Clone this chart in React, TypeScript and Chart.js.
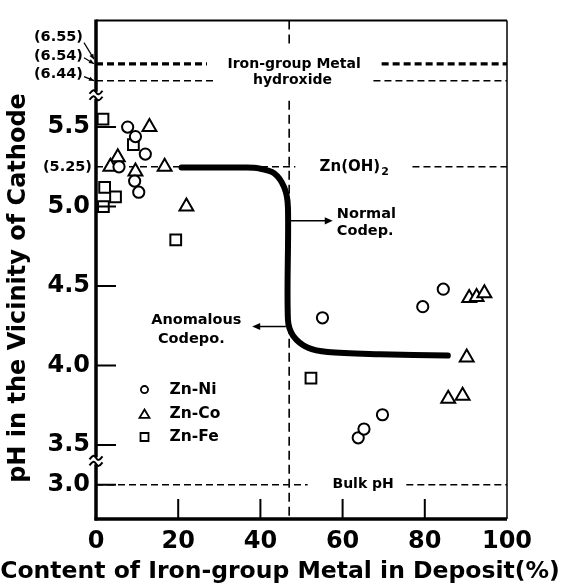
import React, { useEffect, useRef } from "react";
import { Chart, registerables } from "chart.js";

Chart.register(...registerables);

const FONT_FAMILY = '"DejaVu Sans", "Liberation Sans", sans-serif';

// ---- axis ticks ----
const xTicks = [0, 20, 40, 60, 80, 100];
const yTickPH = [3.0, 3.5, 4.0, 4.5, 5.0, 5.5];
const yTickLabels = ["3.0", "3.5", "4.0", "4.5", "5.0", "5.5"];

// ---- series (content of iron-group metal %, pH) ----
const niContent = [7.7, 9.6, 12.0, 5.6, 9.4, 10.4, 55.1, 63.8, 65.2, 69.7, 79.5, 84.5];
const niPH = [5.5, 5.44, 5.33, 5.25, 5.16, 5.09, 4.3, 3.545, 3.6, 3.69, 4.37, 4.48];

const coContent = [13.0, 5.3, 3.5, 9.6, 16.7, 22.0, 85.7, 89.2, 90.2, 90.8, 92.6, 94.5];
const coPH = [5.5, 5.31, 5.25, 5.22, 5.25, 5.0, 3.79, 3.81, 4.05, 4.425, 4.43, 4.455];

const feContent = [1.7, 9.1, 2.1, 4.75, 1.8, 19.4, 52.3];
const fePH = [5.55, 5.39, 5.12, 5.06, 5.0, 4.79, 3.92];

// ---- transition curve ----
const curveContent = [20.8, 30, 36, 39.6, 43.3, 45.8, 46.7, 46.7, 48.0, 51.6, 56.4, 69.1, 85.6];
const curvePH = [5.245, 5.245, 5.245, 5.24, 5.21, 5.12, 4.995, 4.29, 4.186, 4.111, 4.084, 4.071, 4.062];

// ---- reference levels ----
const ironHydroxidePH = [6.55, 6.54, 6.44];
const ironHydroxideLabels = ["(6.55)", "(6.54)", "(6.44)"];
const znHydroxidePH = 5.25;
const znHydroxideLabel = "(5.25)";
const bulkPH = 3.0;
const boundaryContent = 47;

const seriesNames = ["Zn-Ni", "Zn-Co", "Zn-Fe"];

// broken y-axis: maps pH to axis units
function toAxis(ph: number): number {
  if (ph >= 6) return ph - 0.648;
  if (ph <= 3.2) return ph + 0.25;
  return ph;
}
const AXIS_MIN = 3.034;
const AXIS_MAX = 6.171;
const BREAKS = [5.7, 3.4];

function font(size: number) {
  return `bold ${size}px ${FONT_FAMILY}`;
}

function arrowHead(ctx: CanvasRenderingContext2D, x: number, y: number, angle: number, size: number) {
  ctx.save();
  ctx.translate(x, y);
  ctx.rotate(angle);
  ctx.beginPath();
  ctx.moveTo(0, 0);
  ctx.lineTo(-size, -size * 0.45);
  ctx.lineTo(-size, size * 0.45);
  ctx.closePath();
  ctx.fill();
  ctx.restore();
}

function tilde(ctx: CanvasRenderingContext2D, cx: number, cy: number, w: number) {
  ctx.beginPath();
  ctx.moveTo(cx - w / 2, cy + 1.5);
  ctx.bezierCurveTo(cx - w / 4, cy - 3, cx - w / 8, cy - 3, cx, cy);
  ctx.bezierCurveTo(cx + w / 8, cy + 3, cx + w / 4, cy + 3, cx + w / 2, cy - 1.5);
  ctx.stroke();
}

const annotationPlugin = {
  id: "annotations",
  beforeDatasetsDraw(chart: any) {
    const { ctx, scales } = chart;
    const X = (v: number) => scales.x.getPixelForValue(v);
    const Y = (p: number) => scales.y.getPixelForValue(toAxis(p));
    ctx.save();
    ctx.strokeStyle = "#000";
    ctx.fillStyle = "#000";

    const hdash = (p: number, x0: number, x1: number, w: number, dash: number[]) => {
      ctx.save();
      ctx.lineWidth = w;
      ctx.setLineDash(dash);
      ctx.beginPath();
      ctx.moveTo(X(x0), Y(p));
      ctx.lineTo(X(x1), Y(p));
      ctx.stroke();
      ctx.restore();
    };

    // iron-group hydroxide levels
    hdash(ironHydroxidePH[0], 0, 27, 1.6, [7, 4]);
    hdash(ironHydroxidePH[0], 69.5, 100, 1.6, [7, 4]);
    hdash(ironHydroxidePH[1], 0, 27, 1.6, [7, 4]);
    hdash(ironHydroxidePH[1], 69.5, 100, 1.6, [7, 4]);
    hdash(ironHydroxidePH[2], 0, 28.5, 1.5, [7, 4]);
    hdash(ironHydroxidePH[2], 67.5, 100, 1.5, [7, 4]);
    // Zn(OH)2
    hdash(znHydroxidePH, 0, 48.5, 1.5, [7, 4]);
    hdash(znHydroxidePH, 77, 100, 1.5, [7, 4]);
    // bulk pH
    hdash(bulkPH, 0, 51.5, 1.5, [7, 4]);
    hdash(bulkPH, 75.5, 100, 1.5, [7, 4]);

    // vertical boundary
    ctx.save();
    ctx.lineWidth = 1.6;
    ctx.setLineDash([9, 5]);
    const xv = X(boundaryContent);
    ctx.beginPath();
    ctx.moveTo(xv, chart.chartArea.top);
    ctx.lineTo(xv, Y(ironHydroxidePH[1]) - 21);
    ctx.moveTo(xv, Y(ironHydroxidePH[2]) + 20);
    ctx.lineTo(xv, chart.chartArea.bottom);
    ctx.stroke();
    ctx.restore();

    // texts
    ctx.textBaseline = "middle";
    ctx.textAlign = "center";
    ctx.font = font(14);
    ctx.fillText("Iron-group Metal", X(48.2), Y(ironHydroxidePH[1]));
    ctx.fillText("hydroxide", X(47.8), Y(ironHydroxidePH[2]));
    ctx.fillText("Bulk pH", X(65), Y(bulkPH));

    // Zn(OH)2
    ctx.textAlign = "left";
    ctx.font = font(15);
    const zx = X(54.4);
    const zy = Y(znHydroxidePH);
    ctx.fillText("Zn(OH)", zx, zy);
    const zw = ctx.measureText("Zn(OH)").width;
    ctx.font = font(11);
    ctx.fillText("2", zx + zw + 1, zy + 5);

    // Normal Codep.
    ctx.font = font(14.5);
    ctx.textAlign = "left";
    ctx.fillText("Normal", X(58.6), Y(4.953));
    ctx.fillText("Codep.", X(58.6), Y(4.842));
    ctx.lineWidth = 1.5;
    ctx.beginPath();
    ctx.moveTo(X(47.4), Y(4.91));
    ctx.lineTo(X(56.0), Y(4.91));
    ctx.stroke();
    arrowHead(ctx, X(57.6), Y(4.91), 0, 8);

    // Anomalous Codepo.
    ctx.textAlign = "right";
    ctx.fillText("Anomalous", X(35.4), Y(4.283));
    ctx.fillText("Codepo.", X(31.3), Y(4.165));
    ctx.beginPath();
    ctx.moveTo(X(46.2), Y(4.245));
    ctx.lineTo(X(39.5), Y(4.245));
    ctx.stroke();
    arrowHead(ctx, X(38.0), Y(4.245), Math.PI, 8);

    // left-side level labels
    const ax = X(0);
    ctx.font = font(14.5);
    ctx.textAlign = "right";
    const labelOffsets = [-25.5, -9, -6];
    const arrowTargets = [-4, -1, 0];
    ironHydroxidePH.forEach((p, i) => {
      const ly = Y(p) + labelOffsets[i];
      ctx.fillText(ironHydroxideLabels[i], ax - 13, ly);
      const sx = ax - 12;
      const sy = ly + (i === 0 ? 5 : 2);
      const ex = ax - 2;
      const ey = Y(p) + arrowTargets[i];
      ctx.lineWidth = 1.2;
      ctx.beginPath();
      ctx.moveTo(sx, sy);
      ctx.lineTo(ex, ey);
      ctx.stroke();
      arrowHead(ctx, ex, ey, Math.atan2(ey - sy, ex - sx), 5);
    });
    ctx.fillText(znHydroxideLabel, ax - 4, Y(znHydroxidePH));

    // legend
    const legendPH = [3.848, 3.693, 3.55];
    const lx = X(11.8);
    ctx.lineWidth = 1.8;
    legendPH.forEach((p, i) => {
      const ly = Y(p);
      ctx.beginPath();
      if (i === 0) {
        ctx.arc(lx, ly, 3.6, 0, Math.PI * 2);
      } else if (i === 1) {
        ctx.moveTo(lx, ly - 4.8);
        ctx.lineTo(lx + 5, ly + 3.6);
        ctx.lineTo(lx - 5, ly + 3.6);
        ctx.closePath();
      } else {
        ctx.rect(lx - 4, ly - 4, 8, 8);
      }
      ctx.stroke();
      ctx.font = font(15.5);
      ctx.textAlign = "left";
      ctx.fillText(seriesNames[i], X(17.9), ly);
    });

    ctx.restore();
  },
  afterDatasetsDraw(chart: any) {
    const { ctx, chartArea: a, scales } = chart;
    const X = (v: number) => scales.x.getPixelForValue(v);
    ctx.save();
    ctx.strokeStyle = "#000";
    ctx.lineCap = "butt";

    // top and right frame
    ctx.lineWidth = 2;
    ctx.beginPath();
    ctx.moveTo(a.left, a.top);
    ctx.lineTo(a.right, a.top);
    ctx.stroke();
    ctx.lineWidth = 1.5;
    ctx.beginPath();
    ctx.moveTo(a.right, a.top);
    ctx.lineTo(a.right, a.bottom);
    ctx.stroke();

    // bottom axis
    ctx.lineWidth = 3.5;
    ctx.beginPath();
    ctx.moveTo(a.left - 1.5, a.bottom);
    ctx.lineTo(a.right, a.bottom);
    ctx.stroke();

    // left axis with breaks
    const b1 = scales.y.getPixelForValue(BREAKS[0]);
    const b2 = scales.y.getPixelForValue(BREAKS[1]);
    ctx.lineWidth = 3.5;
    ctx.beginPath();
    ctx.moveTo(a.left, a.top - 1);
    ctx.lineTo(a.left, b1 - 3.5);
    ctx.moveTo(a.left, b1 + 3.5);
    ctx.lineTo(a.left, b2 - 3.5);
    ctx.moveTo(a.left, b2 + 3.5);
    ctx.lineTo(a.left, a.bottom + 1.5);
    ctx.stroke();
    ctx.lineWidth = 2;
    [b1, b2].forEach((b) => {
      tilde(ctx, a.left, b - 3, 13);
      tilde(ctx, a.left, b + 3, 13);
    });

    // inward ticks
    ctx.lineWidth = 2;
    ctx.beginPath();
    yTickPH.forEach((p) => {
      const y = scales.y.getPixelForValue(toAxis(p));
      ctx.moveTo(a.left, y);
      ctx.lineTo(a.left + 20, y);
    });
    xTicks.slice(1, -1).forEach((v) => {
      const x = X(v);
      ctx.moveTo(x, a.bottom);
      ctx.lineTo(x, a.bottom - 20);
    });
    ctx.stroke();
    ctx.restore();
  },
  afterDraw(chart: any) {
    const { ctx } = chart;
    ctx.save();
    ctx.fillStyle = "#000";
    ctx.textAlign = "center";
    ctx.textBaseline = "middle";
    ctx.font = font(23.5);
    ctx.fillText("Content of Iron-group Metal in Deposit(%)", 280, 572);
    ctx.translate(19, 288);
    ctx.rotate(-Math.PI / 2);
    ctx.font = font(24);
    ctx.fillText("pH in the Vicinity of Cathode", 0, 0);
    ctx.restore();
  },
};

function toPoints(xs: number[], ys: number[]) {
  return xs.map((x, i) => ({ x, y: toAxis(ys[i]) }));
}

export default function App() {
  const canvasRef = useRef<HTMLCanvasElement | null>(null);

  useEffect(() => {
    if (!canvasRef.current) return;
    const pointBase = {
      backgroundColor: "#fff",
      borderColor: "#000",
      pointBorderWidth: 2,
      pointBackgroundColor: "#fff",
      pointBorderColor: "#000",
      showLine: false,
    };
    const chart = new Chart(canvasRef.current, {
      type: "scatter",
      data: {
        datasets: [
          { ...pointBase, label: seriesNames[0], data: toPoints(niContent, niPH), pointStyle: "circle", pointRadius: 5.6 },
          { ...pointBase, label: seriesNames[1], data: toPoints(coContent, coPH), pointStyle: "triangle", pointRadius: 8 },
          { ...pointBase, label: seriesNames[2], data: toPoints(feContent, fePH), pointStyle: "rect", pointRadius: 7.6 },
          {
            type: "line",
            label: "curve",
            data: toPoints(curveContent, curvePH),
            showLine: true,
            borderColor: "#000",
            borderWidth: 6,
            pointRadius: 0,
            tension: 0.3,
            fill: false,
            borderCapStyle: "round",
            borderJoinStyle: "round",
          } as any,
        ],
      },
      options: {
        animation: false,
        responsive: false,
        layout: { padding: { top: 14, right: 56, left: 0, bottom: 0 } },
        plugins: { legend: { display: false }, tooltip: { enabled: false } },
        scales: {
          x: {
            type: "linear",
            min: 0,
            max: 100,
            ticks: { stepSize: 20, color: "#000", font: { family: FONT_FAMILY, size: 24, weight: "bold" }, padding: 8 },
            grid: { display: false, drawTicks: false },
            border: { display: false },
            afterFit: (s: any) => {
              s.height = 67;
            },
          },
          y: {
            type: "linear",
            min: AXIS_MIN,
            max: AXIS_MAX,
            afterBuildTicks: (s: any) => {
              s.ticks = yTickPH.map((p) => ({ value: toAxis(p) }));
            },
            ticks: {
              color: "#000",
              font: { family: FONT_FAMILY, size: 24, weight: "bold" },
              padding: 6,
              callback: (_v: any, i: number) => yTickLabels[i],
            },
            grid: { display: false, drawTicks: false },
            border: { display: false },
            afterFit: (s: any) => {
              s.width = 96;
            },
          },
        },
      } as any,
      plugins: [annotationPlugin],
    });
    return () => chart.destroy();
  }, []);

  return (
    <div style={{ position: "fixed", left: 0, top: 0, width: 563, height: 586, background: "#fff" }}>
      <canvas ref={canvasRef} width={563} height={586} style={{ width: 563, height: 586 }} />
    </div>
  );
}
